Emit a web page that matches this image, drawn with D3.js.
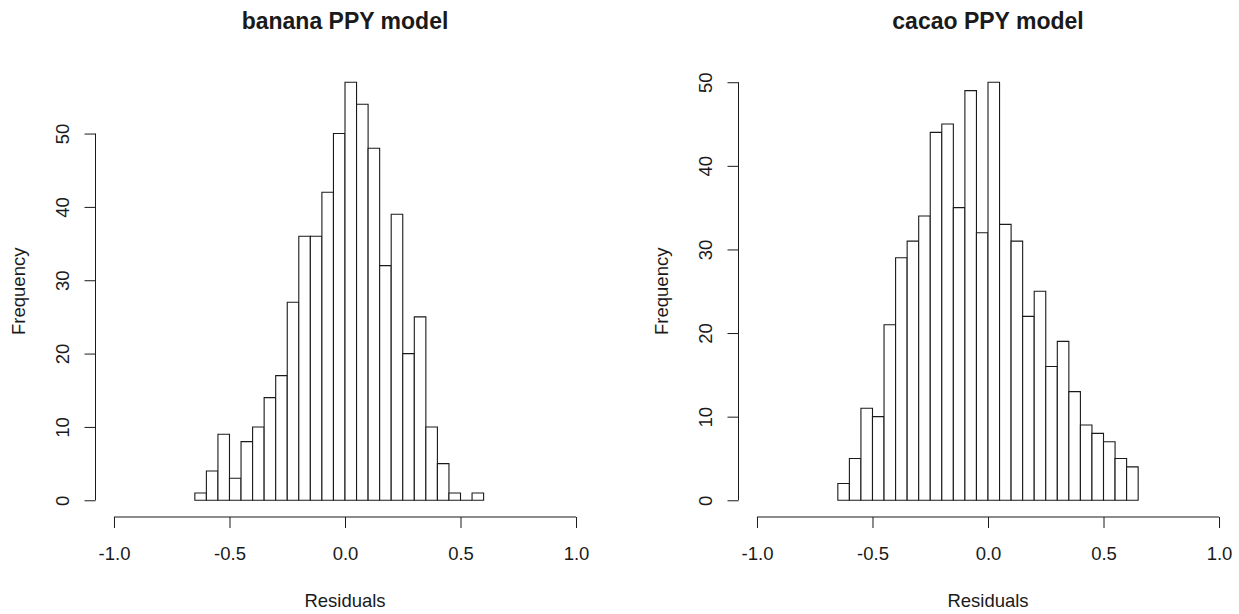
<!DOCTYPE html>
<html>
<head>
<meta charset="utf-8">
<script src="https://cdn.jsdelivr.net/npm/d3@7"></script>
<style>
  html, body { margin: 0; padding: 0; background: #fff; }
  svg { display: block; }
  text { font-family: "Liberation Sans", Arial, Helvetica, sans-serif; fill: #1a1a1a; }
</style>
</head>
<body>
<script>
// ---- data ----
const titles = ["banana PPY model", "cacao PPY model"];
const xLabel = "Residuals";
const yLabel = "Frequency";

const bananaBreaks = [-0.65, -0.6, -0.55, -0.5, -0.45, -0.4, -0.35, -0.3, -0.25, -0.2, -0.15, -0.1, -0.05,
                      0, 0.05, 0.1, 0.15, 0.2, 0.25, 0.3, 0.35, 0.4, 0.45, 0.5, 0.55, 0.6];
const bananaCounts = [1, 4, 9, 3, 8, 10, 14, 17, 27, 36, 36, 42, 50, 57, 54, 48, 32, 39, 20, 25, 10, 5, 1, 0, 1];

const cacaoBreaks = [-0.65, -0.6, -0.55, -0.5, -0.45, -0.4, -0.35, -0.3, -0.25, -0.2, -0.15, -0.1, -0.05,
                     0, 0.05, 0.1, 0.15, 0.2, 0.25, 0.3, 0.35, 0.4, 0.45, 0.5, 0.55, 0.6, 0.65];
const cacaoCounts = [2, 5, 11, 10, 21, 29, 31, 34, 44, 45, 35, 49, 32, 50, 33, 31, 22, 25, 16, 19, 13, 9, 8, 7, 5, 4];

const xTicks = [-1.0, -0.5, 0.0, 0.5, 1.0];
const xTickLabels = ["-1.0", "-0.5", "0.0", "0.5", "1.0"];
const bananaYTicks = [0, 10, 20, 30, 40, 50];
const cacaoYTicks = [0, 10, 20, 30, 40, 50];

// ---- layout ----
const W = 1239, H = 614;
const panelOffsets = [0, 643];
const plotLeft = 95.5, plotRight = 594.5, plotTop = 65.5, plotBottom = 517;
const tickLen = 11;
const fontSize = 18.5;

const svg = d3.select("body").append("svg").attr("width", W).attr("height", H);

function drawPanel(off, title, breaks, counts, yTicks) {
  const g = svg.append("g").attr("transform", `translate(${off},0)`);
  const x = d3.scaleLinear().domain([-1.08, 1.08]).range([plotLeft, plotRight]);
  const ymax = d3.max(counts);
  const y = d3.scaleLinear().domain([-0.04 * ymax, 1.04 * ymax]).range([plotBottom, plotTop]);

  // bars (paths so zero-height bins still show as a line)
  g.append("g").selectAll("path").data(counts).join("path")
    .attr("d", (c, i) => {
      const x0 = x(breaks[i]), x1 = x(breaks[i + 1]), y0 = y(0), y1 = y(c);
      return `M${x0},${y0}V${y1}H${x1}V${y0}Z`;
    })
    .attr("fill", "#fff").attr("stroke", "#1a1a1a").attr("stroke-width", 1.1);

  // x axis
  const xa = g.append("g").attr("transform", `translate(0,${plotBottom})`)
    .call(d3.axisBottom(x).tickValues(xTicks).tickSize(tickLen).tickSizeOuter(0)
      .tickFormat((d, i) => xTickLabels[i]));
  xa.select(".domain").remove();
  xa.append("line").attr("x1", x(xTicks[0])).attr("x2", x(xTicks[xTicks.length - 1]))
    .attr("y1", 0).attr("y2", 0).attr("stroke", "#1a1a1a");
  xa.selectAll(".tick line").attr("stroke", "#1a1a1a");
  xa.selectAll(".tick text").attr("y", 43).attr("dy", 0)
    .style("font-size", fontSize + "px").style("font-family", "Liberation Sans, Arial, sans-serif").attr("fill", "#1a1a1a");

  // y axis
  const ya = g.append("g").attr("transform", `translate(${plotLeft},0)`)
    .call(d3.axisLeft(y).tickValues(yTicks).tickSize(tickLen).tickSizeOuter(0).tickFormat(d3.format("d")));
  ya.select(".domain").remove();
  ya.append("line").attr("x1", 0).attr("x2", 0)
    .attr("y1", y(yTicks[0])).attr("y2", y(yTicks[yTicks.length - 1])).attr("stroke", "#1a1a1a");
  ya.selectAll(".tick line").attr("stroke", "#1a1a1a");
  ya.selectAll(".tick text")
    .attr("x", 0).attr("y", 0).attr("dy", 0)
    .attr("transform", "translate(-26.5,0) rotate(-90)")
    .attr("text-anchor", "middle")
    .style("font-size", fontSize + "px").style("font-family", "Liberation Sans, Arial, sans-serif").attr("fill", "#1a1a1a");

  // title
  g.append("text").attr("x", (plotLeft + plotRight) / 2).attr("y", 29)
    .attr("text-anchor", "middle").style("font-size", "23px").style("font-weight", "bold")
    .text(title);

  // axis labels
  g.append("text").attr("x", (plotLeft + plotRight) / 2).attr("y", 607)
    .attr("text-anchor", "middle").style("font-size", fontSize + "px").text(xLabel);
  g.append("text").attr("transform", `translate(25,${(plotTop + plotBottom) / 2}) rotate(-90)`)
    .attr("text-anchor", "middle").style("font-size", fontSize + "px").text(yLabel);
}

drawPanel(panelOffsets[0], titles[0], bananaBreaks, bananaCounts, bananaYTicks);
drawPanel(panelOffsets[1], titles[1], cacaoBreaks, cacaoCounts, cacaoYTicks);
</script>
</body>
</html>
